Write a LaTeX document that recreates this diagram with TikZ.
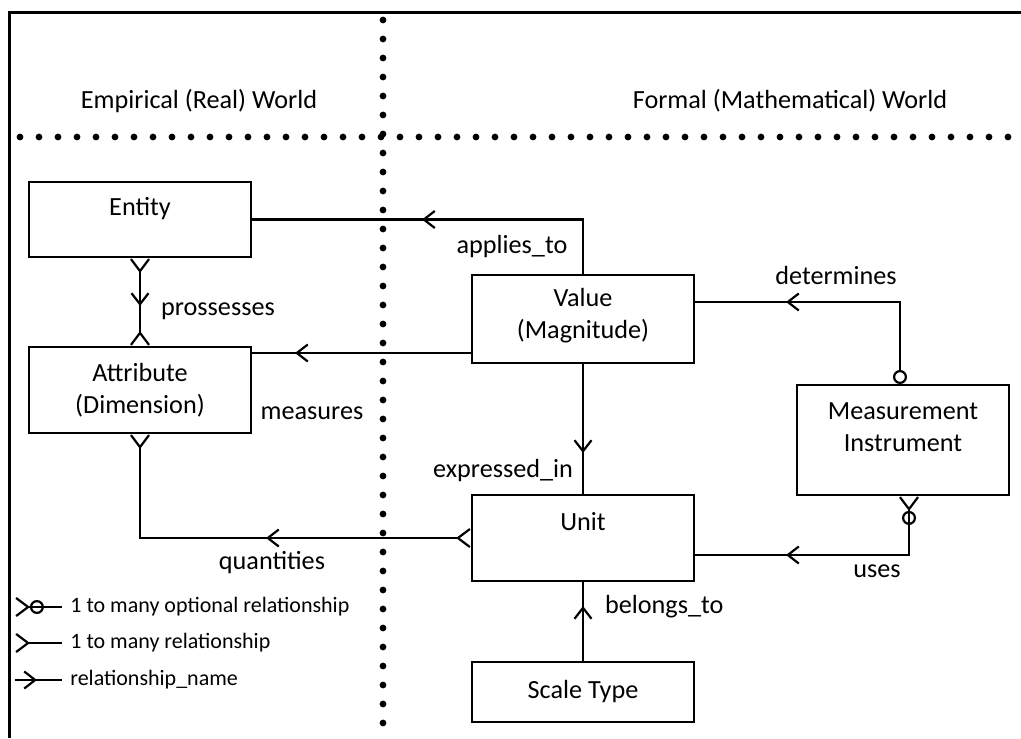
\documentclass[tikz,border=0pt]{standalone}
\usepackage{fontspec}
\setmainfont{Carlito}
\usetikzlibrary{arrows.meta,decorations.markings}

\tikzset{
  entbox/.style={draw, line width=1pt, minimum width=111pt, inner sep=0pt},
  lbl/.style={align=center, inner sep=0pt},
  legend/.style={anchor=west, inner sep=0pt, font=\fontsize{11}{13}\selectfont},
  conn/.style={line width=1.1pt},
  dots/.style={line width=3.4pt, line cap=round, dash pattern=on 0pt off 9.5pt},
  cf/.tip={Straight Barb[reversed,length=6pt,width=9pt]},
  opt/.tip={Circle[open,length=7pt]},
  rel/.tip={Straight Barb[length=5.5pt,width=8.5pt]},
  relmark/.style={postaction={decorate,decoration={markings,mark=at position #1 with {\arrow{rel}}}}},
}

\begin{document}
\begin{tikzpicture}[x=0.5pt,y=-0.5pt,font=\fontsize{13.1}{16}\selectfont]
	\useasboundingbox (0,0) rectangle (1021,738);
	%frame
	\draw[line width=1.5pt] (9,738) -- (9,13) -- (1021,13);
	%world split
	\draw[dots] (383,20) -- (383,738);
	\draw[dots] (20,137) -- (1021,137);
	\node (empirical) at (199,101) {Empirical (Real) World};
	\node (formal) at (790,101) {Formal (Mathematical) World};
	%entities
	\node[entbox, minimum height=37.5pt, label={[lbl,yshift=5.25pt]center:Entity}] (entity) at (140,219.5) {};
	\node[entbox, minimum height=43pt, label={[lbl]center:Attribute\\(Dimension)}] (attribute) at (140,390) {};
	\node[entbox, minimum height=44pt, label={[lbl,yshift=1.5pt]center:Value\\(Magnitude)}] (value) at (583,319) {};
	\node[entbox, minimum height=43pt, label={[lbl,yshift=8pt]center:Unit}] (unit) at (583,538) {};
	\node[entbox, minimum height=30pt, label={[lbl]center:Scale Type}] (scale) at (583,692) {};
	\node[entbox, minimum width=106pt, minimum height=55pt, label={[lbl,yshift=6.5pt]center:Measurement\\Instrument}] (instr) at (903,440) {};
	%relationships
	\coordinate (meas) at ([yshift=-17pt]value.west);
	\coordinate (det) at ([yshift=8.5pt]value.east);
	\coordinate (use) at ([yshift=-8.5pt]unit.east);
	\draw[conn, relmark=107.75pt] (value.north) |- (entity.east);
	\draw[conn, relmark=88pt] (meas) -- (meas -| attribute.east);
	\draw[conn, cf-cf, relmark=24pt] (entity.south) -- (attribute.north);
	\draw[conn, cf-cf, relmark=102.5pt] (unit.west) -| (attribute.south);
	\draw[conn, relmark=44.5pt] (value.south) -- (unit.north);
	\draw[conn, opt-, relmark=98pt] ([xshift=-1.5pt]instr.north) |- (det);
	\draw[conn, {cf[]opt[]}-, relmark=91pt] ([xshift=3pt]instr.south) |- (use);
	\draw[conn, relmark=27.5pt] (scale.north) -- (unit.south);
	%relationship names
	\node (appliesto) at (512,247) {applies\_to};
	\node (prossesses) at (218,311) {prossesses};
	\node (measures) at (312,413) {measures};
	\node[anchor=east] (expressed) at (580,471) {expressed\_in};
	\node (quantities) at (272,563) {quantities};
	\node (determines) at (836,275) {determines};
	\node (uses) at (877,571) {uses};
	\node[anchor=west] (belongs) at (598,607) {belongs\_to};
	%legend
	\node[legend] (lgopt) at (70,607) {1 to many optional relationship};
	\node[legend] (lgmany) at (70,643) {1 to many relationship};
	\node[legend] (lgname) at (70,680) {relationship\_name};
	\coordinate (lgopt-s) at (15,607);
	\coordinate (lgmany-s) at (15,643);
	\coordinate (lgname-s) at (15,680);
	\draw[conn, {cf[]opt[]}-] (lgopt-s) -- ([xshift=-4pt]lgopt.west);
	\draw[conn, cf-] (lgmany-s) -- ([xshift=-4pt]lgmany.west);
	\draw[conn, relmark=11pt] (lgname-s) -- ([xshift=-4pt]lgname.west);
\end{tikzpicture}
\end{document}
